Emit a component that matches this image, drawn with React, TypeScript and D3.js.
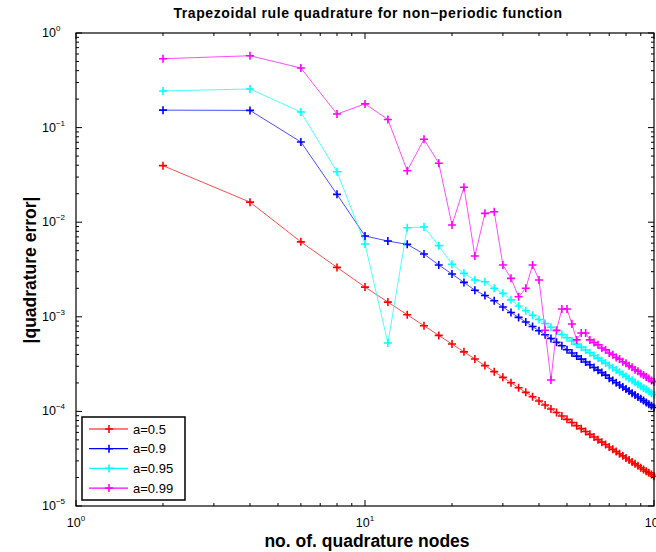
import React from "react";
import * as d3 from "d3";

const nodes = [2,4,6,8,10,12,14,16,18,20,22,24,26,28,30,32,34,36,38,40,42,44,46,48,50,52,54,56,58,60,62,64,66,68,70,72,74,76,78,80,82,84,86,88,90,92,94,96,98,100];

const errA05 = [0.0396,0.0163,0.0062,0.00333,0.00206,0.00143,0.00105,0.000805,0.000636,0.000515,0.000426,0.000358,0.000305,0.000263,0.000229,0.000201,0.000178,0.000159,0.000143,0.000129,0.000117,0.000106,0.0000974,0.0000894,0.0000824,0.0000762,0.0000706,0.0000657,0.0000612,0.0000572,0.0000536,0.0000503,0.0000473,0.0000446,0.000042,0.0000397,0.0000376,0.0000357,0.0000339,0.0000322,0.0000306,0.0000292,0.0000279,0.0000266,0.0000254,0.0000243,0.0000233,0.0000224,0.0000215,0.0000206];

const errA09 = [0.153,0.152,0.0705,0.0197,0.00715,0.00632,0.00583,0.00461,0.00353,0.00283,0.00231,0.00191,0.00168,0.00148,0.00127,0.00111,0.000986,0.00088,0.000789,0.000713,0.000646,0.000589,0.000539,0.000495,0.000448,0.000414,0.000384,0.000357,0.000333,0.000311,0.000291,0.000273,0.000257,0.000242,0.000224,0.000212,0.000201,0.00019,0.000181,0.000172,0.000164,0.000156,0.000149,0.000142,0.000136,0.00013,0.000124,0.000119,0.000115,0.00011];

const errA095 = [0.244,0.256,0.146,0.0342,0.00589,0.000528,0.00875,0.0089,0.00565,0.00359,0.00288,0.00245,0.00235,0.002,0.00177,0.00151,0.0013,0.00116,0.00104,0.000938,0.00085,0.000775,0.000709,0.000651,0.0006,0.000555,0.000514,0.000478,0.000446,0.000417,0.00039,0.000366,0.000344,0.000324,0.000306,0.000289,0.000274,0.00026,0.000247,0.000234,0.000223,0.000213,0.000203,0.000194,0.000185,0.000177,0.00017,0.000163,0.000156,0.00015];

const errA099 = [0.535,0.575,0.426,0.139,0.178,0.122,0.035,0.0752,0.042,0.00934,0.0234,0.00439,0.0124,0.0129,0.00353,0.00255,0.00163,0.002,0.00353,0.00245,0.00072,0.000215,0.00072,0.00121,0.00121,0.00084,0.00057,0.000674,0.000674,0.00057,0.000535,0.000505,0.000468,0.000447,0.000415,0.000398,0.000372,0.000357,0.000335,0.000322,0.000303,0.000292,0.000276,0.000266,0.000252,0.000243,0.000231,0.000223,0.000212,0.000206];

const seriesNames = ["a=0.5", "a=0.9", "a=0.95", "a=0.99"];
const seriesColors = ["#ff0000", "#0000ff", "#00ffff", "#ff00ff"];
const seriesData = [errA05, errA09, errA095, errA099];

const xDecades = [1, 10, 100];
const xExponents = ["0", "1", "2"];
const yDecades = [1, 0.1, 0.01, 0.001, 0.0001, 0.00001];
const yExponents = ["0", "\u22121", "\u22122", "\u22123", "\u22124", "\u22125"];

const titleText = "Trapezoidal rule quadrature for non\u2212periodic function";
const xLabelText = "no. of. quadrature nodes";
const yLabelText = "|quadrature error|";

const W = 656, H = 552;
const L = 76, R = 654, T = 33, B = 506;
const FONT = "'Liberation Sans', Arial, Helvetica, sans-serif";

export default function App() {
  const x = d3.scaleLog().domain([1, 100]).range([L, R]);
  const y = d3.scaleLog().domain([1e-5, 1]).range([B, T]);
  const line = d3.line<[number, number]>().x(d => x(d[0])).y(d => y(d[1]));

  const minorX: number[] = [];
  [1, 10].forEach(d => { for (let k = 2; k <= 9; k++) minorX.push(d * k); });
  const minorY: number[] = [];
  [1e-5, 1e-4, 1e-3, 1e-2, 1e-1].forEach(d => { for (let k = 2; k <= 9; k++) minorY.push(d * k); });

  const maj = 6, mnr = 3;
  const mk = 4;

  const legX = 82, legY = 417, legW = 103, legH = 83;
  const rowH = 19.7;

  return (
    <svg width={W} height={H} style={{ position: "absolute", left: 0, top: 0, background: "#fff" }} fontFamily={FONT}>
      <rect x={0} y={0} width={W} height={H} fill="#fff" />
      <text x={368} y={18} textAnchor="middle" fontSize={14} letterSpacing={0.6} fontWeight="bold">{titleText}</text>

      {/* series */}
      {seriesData.map((vals, si) => {
        const pts: [number, number][] = nodes.map((n, i) => [n, vals[i]]);
        return (
          <g key={si}>
            <path d={line(pts) || ""} fill="none" stroke={seriesColors[si]} strokeWidth={1} strokeOpacity={0.7} />
            {pts.map((p, i) => (
              <path key={i} d={`M${x(p[0]) - mk},${y(p[1])}H${x(p[0]) + mk}M${x(p[0])},${y(p[1]) - mk}V${y(p[1]) + mk}`}
                stroke={seriesColors[si]} strokeWidth={1.6} fill="none" />
            ))}
          </g>
        );
      })}

      {/* frame */}
      <rect x={L} y={T} width={R - L} height={B - T} fill="none" stroke="#000" strokeWidth={1.2} />

      {/* x ticks */}
      {xDecades.map((d, i) => (
        <g key={"xm" + i}>
          <line x1={x(d)} x2={x(d)} y1={B} y2={B - maj} stroke="#000" />
          <line x1={x(d)} x2={x(d)} y1={T} y2={T + maj} stroke="#000" />
          <text x={x(d)} y={527} textAnchor="middle" fontSize={12.5}>
            <tspan>10</tspan><tspan fontSize={8} dy={-6}>{xExponents[i]}</tspan>
          </text>
        </g>
      ))}
      {minorX.map((d, i) => (
        <g key={"xn" + i}>
          <line x1={x(d)} x2={x(d)} y1={B} y2={B - mnr} stroke="#000" />
          <line x1={x(d)} x2={x(d)} y1={T} y2={T + mnr} stroke="#000" />
        </g>
      ))}

      {/* y ticks */}
      {yDecades.map((d, i) => (
        <g key={"ym" + i}>
          <line x1={L} x2={L + maj} y1={y(d)} y2={y(d)} stroke="#000" />
          <line x1={R} x2={R - maj} y1={y(d)} y2={y(d)} stroke="#000" />
          <text x={42} y={y(d) + 4} textAnchor="start" fontSize={12.5}>
            <tspan>10</tspan><tspan fontSize={8} dy={-6}>{yExponents[i]}</tspan>
          </text>
        </g>
      ))}
      {minorY.map((d, i) => (
        <g key={"yn" + i}>
          <line x1={L} x2={L + mnr} y1={y(d)} y2={y(d)} stroke="#000" />
          <line x1={R} x2={R - mnr} y1={y(d)} y2={y(d)} stroke="#000" />
        </g>
      ))}

      <text x={367} y={547} textAnchor="middle" fontSize={17.5} fontWeight="bold">{xLabelText}</text>
      <text transform={`translate(36,${270}) rotate(-90)`} textAnchor="middle" fontSize={17.5} fontWeight="bold">{yLabelText}</text>

      {/* legend */}
      <rect x={legX} y={legY} width={legW} height={legH} fill="#fff" stroke="#000" strokeWidth={1.5} />
      {seriesNames.map((name, i) => {
        const cy = legY + 12 + i * rowH;
        return (
          <g key={"lg" + i}>
            <line x1={89} x2={128} y1={cy} y2={cy} stroke={seriesColors[i]} strokeWidth={1.2} />
            <path d={`M${109 - mk},${cy}H${109 + mk}M109,${cy - mk}V${cy + mk}`} stroke={seriesColors[i]} strokeWidth={1.6} />
            <text x={133} y={cy + 4.5} fontSize={13}>{name}</text>
          </g>
        );
      })}
    </svg>
  );
}
